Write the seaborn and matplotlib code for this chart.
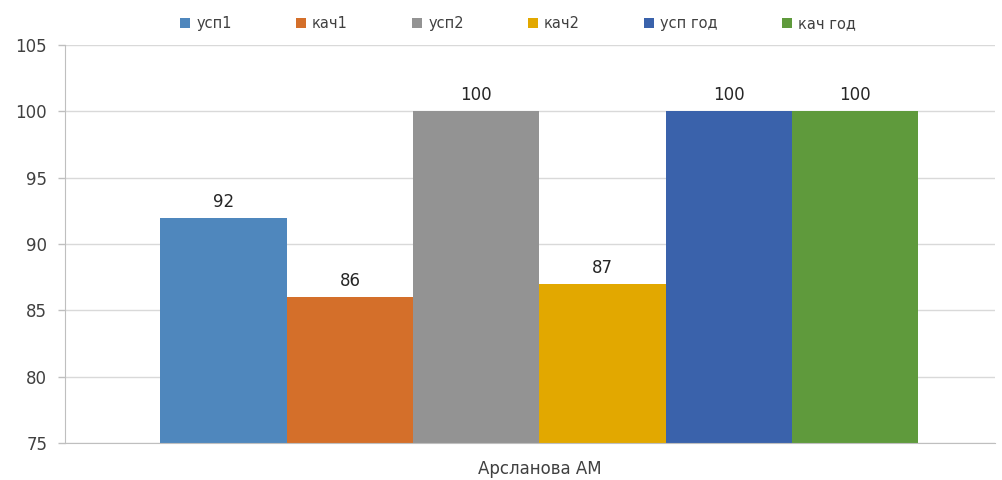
import matplotlib
matplotlib.use("Agg")
import matplotlib.pyplot as plt
import seaborn as sns
import pandas as pd

category = ["Арсланова АМ"]
series = ["усп1", "кач1", "усп2", "кач2", "усп год", "кач год"]
values = [92, 86, 100, 87, 100, 100]
colors = ["#4F87BD", "#D46F2A", "#939393", "#E2A800", "#3A62AB", "#5F9A3C"]

df = pd.DataFrame({"name": category * len(series), "series": series, "value": values})

sns.set_style("white")
plt.rcParams['font.family'] = ['DejaVu Sans']

fig = plt.figure(figsize=(10.03, 4.8), dpi=100)
ax = fig.add_axes([0.065, 0.077, 0.927, 0.829])
sns.barplot(data=df, x="name", y="value", hue="series", hue_order=series,
            palette=colors, width=0.815, ax=ax, saturation=1, legend=True,
            linewidth=0, edgecolor="none")

ax.set_ylim(75, 105)
ax.set_yticks(range(75, 106, 5))
ax.set_xlim(-0.51, 0.49)
ax.yaxis.grid(True, color="#D9D9D9", linewidth=1)
ax.set_axisbelow(True)
for s in ["top", "right"]:
    ax.spines[s].set_visible(False)
ax.spines["left"].set_color("#BFBFBF")
ax.spines["bottom"].set_color("#BFBFBF")
ax.tick_params(axis="y", left=True, length=5, width=1, color="#BFBFBF", labelsize=12,
               labelcolor="#404040", pad=8)
ax.tick_params(axis="x", length=0, labelsize=12, labelcolor="#404040", pad=12)
ax.set_xlabel("")
ax.set_ylabel("")

for c in ax.containers:
    ax.bar_label(c, fmt="%g", padding=5, fontsize=12, color="#262626")

leg = ax.legend(loc="center", bbox_to_anchor=(0.487, 1.055), ncol=6, frameon=False,
                fontsize=10.5, handlelength=0.7, handleheight=0.7, handletextpad=0.4,
                columnspacing=4.4)
for t in leg.get_texts():
    t.set_color("#404040")

fig.savefig("out.png", dpi=100)
